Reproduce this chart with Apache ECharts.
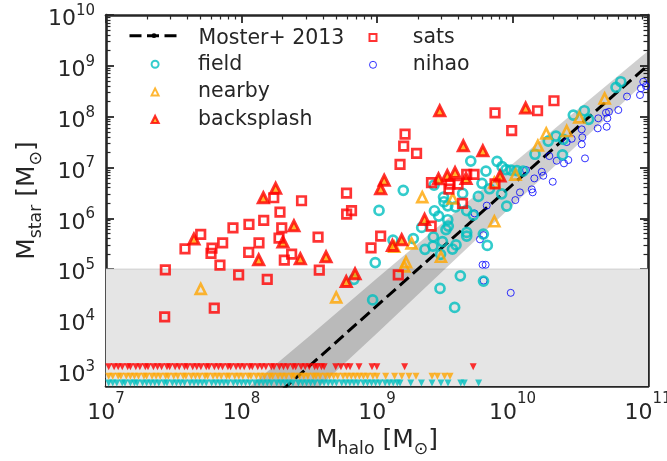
<!DOCTYPE html>
<html><head><meta charset="utf-8">
<script src="https://cdn.jsdelivr.net/npm/echarts@6.0.0/dist/echarts.min.js"></script>
<style>html,body{margin:0;padding:0;background:#fff}#c{width:667px;height:461px}</style>
</head><body><div id="c"></div>
<script>
const FONT = 'DejaVu Sans';
const INK = '#262626';
const CYAN = '#00BFBF', ORANGE = '#FFA500', RED = '#FF0000', BLUE = '#0000FF';

// axis ranges / ticks (log10 units)
const xLogRange = [7, 11];
const yLogRange = [2.7, 10];
const xTickExp = [7, 8, 9, 10, 11];
const yTickExp = [3, 4, 5, 6, 7, 8, 9, 10];
const minorMantissa = [2, 3, 4, 5, 6, 7, 8, 9];

// Moster+ 2013 relation
const mosterLogMhalo = [8.30, 8.50, 9.00, 9.50, 10.00, 10.25, 10.50, 10.75, 11.00];
const mosterLogMstar = [2.62, 3.09, 4.28, 5.47, 6.66, 7.25, 7.84, 8.43, 9.01];
// its grey uncertainty band (upper / lower edge)
const bandLogMhalo      = [8.00, 8.30, 8.50, 9.00, 9.50, 10.00, 10.50, 11.00];
const bandUpperLogMstar = [2.55, 3.23, 3.68, 4.82, 5.945, 7.07, 8.185, 9.29];
const bandLowerLogMstar = [1.27, 2.01, 2.50, 3.74, 4.995, 6.25, 7.495, 8.73];
// shaded region below
const limitLogMstar = 5.0;

const satsLogMhalo = [7.438,7.433,7.583,7.699,7.782,7.775,7.861,7.841,7.799,7.937,7.979,8.055,8.053,8.129,8.164,8.190,8.238,8.284,8.297,8.277,8.316,8.370,8.443,8.565,8.574,8.775,8.776,8.812,8.956,9.027,9.207,9.197,9.292,9.170,9.157,9.402,9.539,9.531,9.598,9.662,9.716,9.871,9.631,9.400,9.871,9.994,10.185,10.306];
const satsLogMstar = [4.986,4.061,5.400,5.683,5.413,5.309,5.518,5.079,4.232,5.813,4.888,5.880,5.329,5.518,5.959,4.797,6.404,6.122,5.813,5.610,5.177,5.295,6.345,5.630,4.980,6.496,6.083,6.152,5.419,5.650,7.657,7.421,7.278,7.061,4.888,6.703,6.673,6.575,6.673,6.864,6.864,6.679,6.293,5.846,8.073,7.726,8.116,8.313];

const backsplashLogMhalo = [7.649,8.161,8.252,8.387,8.306,8.127,8.434,8.624,8.838,8.773,9.053,9.027,9.114,9.182,9.463,10.097,9.637,9.781,9.519,9.576,9.657,9.454,9.908,9.351];
const backsplashLogMstar = [5.591,6.404,6.589,5.852,5.532,5.183,5.203,5.242,4.907,4.754,6.748,6.579,5.467,5.577,8.114,8.169,7.425,7.327,6.841,6.900,6.785,6.776,6.831,5.978];

const nearbyLogMhalo = [7.699,8.699,9.255,9.214,9.201,9.128,9.334,9.559,10.022,9.866,9.472,9.866,10.187,10.249,10.400,10.493,10.680];
const nearbyLogMstar = [4.612,4.443,5.506,5.138,5.053,5.439,6.417,6.388,6.860,5.941,5.242,6.703,7.431,7.671,7.717,7.986,8.360];

const fieldLogMhalo = [8.830,8.968,8.987,9.015,9.194,9.330,9.118,9.268,9.421,9.692,9.886,9.804,9.923,9.952,9.989,10.033,10.078,9.775,9.830,9.632,9.748,9.491,9.494,9.522,9.579,9.920,9.957,9.424,9.455,9.522,9.662,9.711,9.526,9.509,9.662,9.662,9.785,9.814,9.354,9.413,9.483,9.469,9.557,9.583,9.615,9.786,9.465,9.573,9.416,10.166,10.369,10.264,10.321,10.375,10.449,10.530,10.562,10.764,10.799];
const fieldLogMstar = [4.799,4.394,5.128,6.155,6.551,5.821,5.571,5.600,6.654,7.126,7.120,6.929,7.018,6.959,6.949,6.939,6.929,6.687,6.581,6.490,6.431,6.417,6.325,6.246,6.226,6.482,6.240,6.148,6.043,5.971,6.152,6.063,5.846,5.778,5.722,5.650,5.689,5.467,5.390,5.453,5.541,5.291,5.394,5.476,4.868,4.764,4.620,4.246,5.636,7.260,7.248,7.520,7.618,7.553,8.031,8.116,7.947,8.577,8.687];

const nihaoLogMhalo = [10.965,10.948,10.941,10.845,10.781,10.712,10.690,10.700,10.633,10.695,10.629,10.511,10.515,10.437,10.511,10.400,10.272,10.535,10.326,10.412,10.380,10.216,10.227,10.161,10.297,10.142,10.149,10.100,10.055,10.021,9.810,9.720,9.785,9.760,9.779,9.802,9.787,9.987,10.985];
const nihaoLogMstar = [8.687,8.557,8.425,8.396,8.130,8.096,8.077,7.967,7.967,7.801,7.770,7.750,7.593,7.565,7.455,7.500,7.224,7.179,7.132,7.146,7.081,6.915,6.837,6.785,6.719,6.569,6.510,6.949,6.510,6.358,6.250,6.096,5.669,5.585,5.085,5.085,4.774,4.533,8.602];

// upper limits (no stars resolved), three rows
const ulRedLogMstar = 3.08;
const ulRedLogMhalo = [7.02,7.06,7.09,7.12,7.16,7.18,7.22,7.25,7.29,7.31,7.35,7.38,7.41,7.45,7.47,7.51,7.54,7.58,7.60,7.64,7.67,7.70,7.74,7.76,7.80,7.83,7.86,7.90,7.92,7.96,7.99,8.02,8.06,8.08,8.12,8.15,8.18,8.22,8.24,8.28,8.31,8.34,8.38,8.40,8.44,8.47,8.50,8.54,8.56,8.59,8.61,8.695,8.734,8.774,8.801,8.867,8.963,8.999,9.204,9.710];
const ulOrangeLogMstar = 2.89;
const ulOrangeLogMhalo = [7.02,7.05,7.09,7.11,7.15,7.18,7.21,7.24,7.28,7.30,7.34,7.37,7.40,7.44,7.46,7.50,7.53,7.57,7.59,7.63,7.66,7.69,7.73,7.75,7.79,7.82,7.85,7.89,7.91,7.95,7.98,8.01,8.05,8.07,8.11,8.14,8.17,8.21,8.23,8.27,8.30,8.33,8.37,8.39,8.43,8.46,8.49,8.53,8.55,8.58,8.62,8.65,8.68,8.71,8.75,8.78,8.81,8.84,8.87,8.90,8.93,8.97,9.00,9.064,9.130,9.183,9.236,9.288,9.406,9.446,9.499,9.539];
const ulCyanLogMstar = 2.76;
const ulCyanLogMhalo = [7.02,7.05,7.08,7.12,7.14,7.18,7.21,7.23,7.27,7.30,7.33,7.36,7.39,7.43,7.45,7.49,7.52,7.55,7.58,7.62,7.65,7.68,7.71,7.74,7.78,7.81,7.84,7.87,7.90,7.94,7.97,8.00,8.03,8.06,8.10,8.13,8.16,8.19,8.22,8.26,8.29,8.32,8.35,8.38,8.42,8.45,8.48,8.51,8.54,8.58,8.61,8.64,8.67,8.70,8.74,8.77,8.80,8.83,8.86,8.90,8.93,8.96,8.99,9.02,9.06,9.09,9.12,9.15,9.17,9.249,9.328,9.406,9.472,9.524,9.618,9.644,9.750];

// ---------- helpers ----------
const P = v => Math.pow(10, v);
const pairs = (xs, ys) => xs.map((x, i) => [P(x), P(ys[i])]);
const row = (xs, y) => xs.map(x => [P(x), P(y)]);
function minorVals(r) {
  const out = [];
  for (let e = Math.floor(r[0]); e < r[1]; e++) for (const m of minorMantissa) {
    const l = e + Math.log10(m);
    if (l > r[0] + 1e-9 && l < r[1] - 1e-9) out.push(m * P(e));
  }
  return out;
}
const xMajor = xTickExp.map(P), yMajor = yTickExp.map(P);
const xMinor = minorVals(xLogRange), yMinor = minorVals(yLogRange);
const expOf = v => Math.round(Math.log10(v));

// base "10" (with an invisible exponent so the whole label stays centred) and exponent-only layers
const baseRich = {
  b: {fontSize: 22, lineHeight: 24, verticalAlign: 'middle', fontFamily: FONT, color: INK},
  h: {fontSize: 15, lineHeight: 24, verticalAlign: 'middle', fontFamily: FONT, color: 'rgba(0,0,0,0)'}
};
const expRich = {
  g: {fontSize: 22, lineHeight: 24, verticalAlign: 'middle', fontFamily: FONT, color: 'rgba(0,0,0,0)'},
  e: {fontSize: 15, lineHeight: 24, verticalAlign: 'middle', fontFamily: FONT, color: INK}
};
const fmtBase = v => '{b|10}{h|' + expOf(v) + '}';
const fmtExp = v => '{g|10}{e|' + expOf(v) + '}';

const nameRich = {
  m: {fontSize: 25, lineHeight: 36, verticalAlign: 'middle', fontFamily: FONT, color: INK},
  s: {fontSize: 17.3, lineHeight: 14, verticalAlign: 'bottom', fontFamily: FONT, color: INK}
};

function axisSet(kind, pos, layer, labelExtra) {
  const r = kind === 'x' ? xLogRange : yLogRange;
  const major = kind === 'x' ? xMajor : yMajor;
  const minor = kind === 'x' ? xMinor : yMinor;
  const a = {
    type: 'log', logBase: 10, min: P(r[0]), max: P(r[1]), position: pos,
    splitLine: {show: false}, splitArea: {show: false}, nameMoveOverlap: false
  };
  if (layer === 'major') {
    a.axisLine = {show: true, onZero: false, lineStyle: {color: INK, width: 2.6}};
    a.axisTick = {show: true, inside: true, length: 8, lineStyle: {color: INK, width: 1.8}, customValues: major};
    a.axisLabel = {show: false};
  } else if (layer === 'minor') {
    a.axisLine = {show: false};
    a.axisTick = {show: true, inside: true, length: 4.5, lineStyle: {color: INK, width: 1.2}, customValues: minor};
    a.axisLabel = {show: false};
  } else {
    a.axisLine = {show: false};
    a.axisTick = {show: false};
    a.axisLabel = Object.assign({show: true, customValues: major,
      formatter: layer === 'base' ? fmtBase : fmtExp, rich: layer === 'base' ? baseRich : expRich}, labelExtra);
  }
  return a;
}

const xAxes = [
  Object.assign(axisSet('x', 'bottom', 'major'), {
    name: '{m|M}{s|halo}{m| [M}{s|⊙}{m|]}', nameLocation: 'middle', nameGap: 36.35,
    nameTextStyle: {rich: nameRich}
  }),
  axisSet('x', 'bottom', 'minor'),
  axisSet('x', 'top', 'major'),
  axisSet('x', 'top', 'minor'),
  axisSet('x', 'bottom', 'base', {margin: 15.1}),
  axisSet('x', 'bottom', 'exp', {margin: 1.2})
];
const yAxes = [
  Object.assign(axisSet('y', 'left', 'major'), {
    name: '{m|M}{s|star}{m| [M}{s|⊙}{m|]}', nameLocation: 'middle', nameGap: 60.65, nameRotate: 90,
    nameTextStyle: {rich: nameRich}
  }),
  axisSet('y', 'left', 'minor'),
  axisSet('y', 'right', 'major'),
  axisSet('y', 'right', 'minor'),
  axisSet('y', 'left', 'base', {margin: 11, padding: [9.2, 0, 0, 0]}),
  axisSet('y', 'left', 'exp', {margin: 11, padding: [0, 0, 8, 0]})
];

const hollow = (c, w) => ({color: 'rgba(0,0,0,0)', borderColor: c, borderWidth: w});
const legendText = {fontFamily: FONT, fontSize: 20.5, lineHeight: 21, color: INK};
const dash = [12, 5.5];

const option = {
  animation: false,
  backgroundColor: '#fff',
  textStyle: {fontFamily: FONT},
  grid: {left: 106, right: 19, top: 15, bottom: 75, containLabel: false, outerBoundsMode: 'none'},
  xAxis: xAxes,
  yAxis: yAxes,
  legend: [
    {selectedMode: false, orient: 'vertical', left: 128, top: 22.2, padding: 0, itemWidth: 49, itemHeight: 6, itemGap: 0,
     data: [{name: 'Moster+ 2013', lineStyle: {color: '#000', width: 3, type: dash}}],
     formatter: '{t|{name}}',
     textStyle: Object.assign({}, legendText, {padding: [0, 0, 0, 15],
       rich: {t: {fontFamily: FONT, fontSize: 20.5, lineHeight: 27, verticalAlign: 'bottom', color: INK}}})},
    {selectedMode: false, orient: 'vertical', left: 150.5, top: 53.8, padding: 0, itemWidth: 7, itemHeight: 7, itemGap: 6.6,
     symbolKeepAspect: true,
     data: [
       {name: 'field', icon: 'circle', itemStyle: hollow(CYAN, 2)},
       {name: 'nearby', icon: 'triangle', itemStyle: hollow(ORANGE, 2)},
       {name: 'backsplash', icon: 'triangle', itemStyle: {color: ORANGE, borderColor: RED, borderWidth: 2.2}}
     ], textStyle: Object.assign({}, legendText, {padding: [0, 0, 0, 34.5]})},
    {selectedMode: false, orient: 'vertical', left: 368.5, top: 27, padding: 0, itemWidth: 7, itemHeight: 7, itemGap: 6.3,
     symbolKeepAspect: true,
     data: [
       {name: 'sats', icon: 'rect', itemStyle: hollow(RED, 2)},
       {name: 'nihao', icon: 'circle', itemStyle: hollow(BLUE, 1)}
     ], textStyle: Object.assign({}, legendText, {padding: [0, 0, 0, 31.2]})}
  ],
  series: [
    {type: 'custom', name: 'shade', z: 1, silent: true, clip: true, data: [[P(9), P(5)]],
     renderItem: (params, api) => {
       const tl = api.coord([P(xLogRange[0]), P(limitLogMstar)]);
       const br = api.coord([P(xLogRange[1]), P(yLogRange[0])]);
       return {type: 'group', children: [
         {type: 'rect', shape: {x: tl[0], y: tl[1], width: br[0] - tl[0], height: br[1] - tl[1]}, style: {fill: '#e5e5e5'}},
         {type: 'line', shape: {x1: tl[0], y1: tl[1], x2: br[0], y2: tl[1]}, style: {stroke: '#d0d0d0', lineWidth: 1}}
       ]};
     }},
    {type: 'custom', name: 'band', z: 1, silent: true, clip: true, data: [[P(9), P(5)]],
     renderItem: (params, api) => {
       const pts = [];
       bandLogMhalo.forEach((x, i) => pts.push(api.coord([P(x), P(bandUpperLogMstar[i])])));
       for (let i = bandLogMhalo.length - 1; i >= 0; i--) pts.push(api.coord([P(bandLogMhalo[i]), P(bandLowerLogMstar[i])]));
       const cs = params.coordSys;
       return {type: 'polygon', shape: {points: pts}, style: {fill: 'rgba(0,0,0,0.19)'},
               clipPath: {type: 'rect', shape: {x: cs.x, y: cs.y, width: cs.width, height: cs.height}}};
     }},
    {type: 'line', name: 'Moster+ 2013', z: 2, data: pairs(mosterLogMhalo, mosterLogMstar), symbol: 'none', showSymbol: false, clip: true,
     lineStyle: {color: '#000', width: 3, type: dash}, itemStyle: {color: '#000'}},
    {type: 'scatter', name: 'ulCyan', z: 3, data: row(ulCyanLogMhalo, ulCyanLogMstar), symbol: 'triangle', symbolRotate: 180, symbolSize: 7, itemStyle: {color: CYAN}},
    {type: 'scatter', name: 'ulOrange', z: 3, data: row(ulOrangeLogMhalo, ulOrangeLogMstar), symbol: 'triangle', symbolRotate: 180, symbolSize: 7, itemStyle: {color: ORANGE}},
    {type: 'scatter', name: 'ulRed', z: 3, data: row(ulRedLogMhalo, ulRedLogMstar), symbol: 'triangle', symbolRotate: 180, symbolSize: 7, itemStyle: {color: RED}},
    {type: 'scatter', name: 'nihao', z: 3, data: pairs(nihaoLogMhalo, nihaoLogMstar), symbol: 'circle', symbolSize: 7, itemStyle: hollow(BLUE, 1)},
    {type: 'scatter', name: 'field', z: 3, data: pairs(fieldLogMhalo, fieldLogMstar), symbol: 'circle', symbolSize: 9, itemStyle: hollow(CYAN, 2.7)},
    {type: 'scatter', name: 'nearby', z: 3, data: pairs(nearbyLogMhalo, nearbyLogMstar), symbol: 'triangle', symbolSize: 10, itemStyle: hollow(ORANGE, 2.6)},
    {type: 'scatter', name: 'backsplash', z: 3, data: pairs(backsplashLogMhalo, backsplashLogMstar), symbol: 'triangle', symbolSize: 10, itemStyle: {color: ORANGE, borderColor: RED, borderWidth: 3}},
    {type: 'scatter', name: 'sats', z: 3, data: pairs(satsLogMhalo, satsLogMstar), symbol: 'rect', symbolSize: 8.5, itemStyle: hollow(RED, 2.7)}
  ]
};
const chart = echarts.init(document.getElementById('c'), null, {renderer: 'canvas'});
chart.setOption(option);
</script></body></html>
